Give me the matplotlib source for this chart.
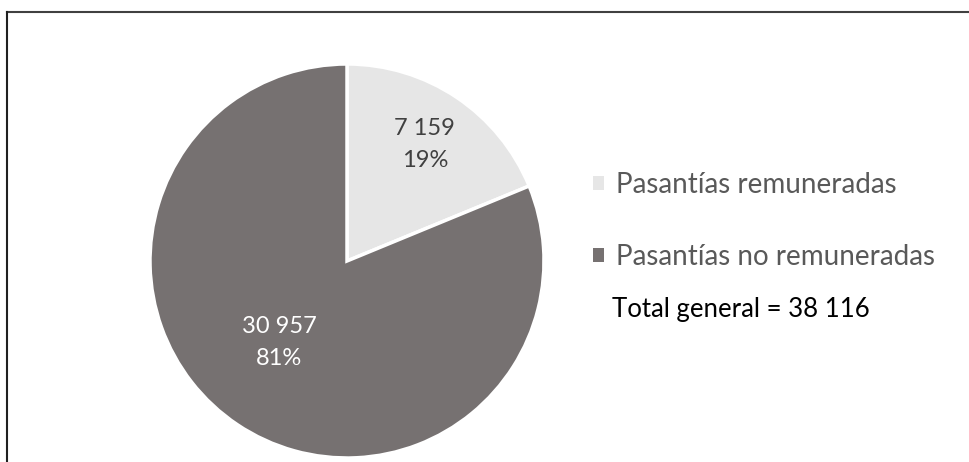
import numpy as np
import matplotlib
matplotlib.use('Agg')
import matplotlib.pyplot as plt
from matplotlib.lines import Line2D
from matplotlib.patches import Patch

plt.rcParams['font.family'] = ['Lato', 'DejaVu Sans']

categorias = ['Pasantías remuneradas', 'Pasantías no remuneradas']
valores = [7159, 30957]
colores = ['#e6e6e6', '#767171']
color_texto = ['#404040', '#ffffff']
total = sum(valores)

W, H = 969, 462
fig = plt.figure(figsize=(W / 100, H / 100), dpi=100)

# pie centre and radius in pixels
cx, cy, r = 347, 261, 197
ax = fig.add_axes([(cx - r) / W, (H - cy - r) / H, 2 * r / W, 2 * r / H])

wedges, _ = ax.pie(valores, colors=colores, startangle=90, counterclock=False,
                   wedgeprops=dict(edgecolor='white', linewidth=2.5))
ax.set_xlim(-1, 1)
ax.set_ylim(-1, 1)

def fmt(n):
    return f'{n:,}'.replace(',', ' ')

# label radius and angle tweak per slice
dist = [0.71, 0.54]
shift = [0, -6]
for w, v, d, s, c in zip(wedges, valores, dist, shift, color_texto):
    ang = np.deg2rad((w.theta1 + w.theta2) / 2 + s)
    ax.text(d * np.cos(ang), d * np.sin(ang),
            f'{fmt(v)}\n{v / total:.0%}', ha='center', va='center',
            fontsize=17, color=c, linespacing=1.65)

handles = [Patch(facecolor=col, edgecolor='none') for col in colores]
leg = fig.legend(handles, categorias, loc='center left',
                 bbox_to_anchor=(593 / W, 1 - 221 / H), frameon=False,
                 fontsize=20, labelcolor='#595959', handlelength=0.4,
                 handleheight=0.4, handletextpad=0.42, labelspacing=1.65,
                 borderaxespad=0, borderpad=0)

fig.text(612 / W, 1 - 309 / H, f'Total general = {fmt(total)}',
         ha='left', va='center', fontsize=18.5, color='black')

# frame lines on top and left
fig.add_artist(Line2D([7 / W, 1], [1 - 12 / H, 1 - 12 / H], color='#404040', lw=1.5))
fig.add_artist(Line2D([7 / W, 7 / W], [0, 1 - 12 / H], color='#202020', lw=1.5))

fig.savefig('out.png', dpi=100)
